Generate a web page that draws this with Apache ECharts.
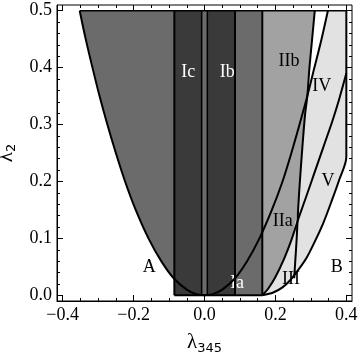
<!DOCTYPE html>
<html>
<head>
<meta charset="utf-8">
<script src="https://cdn.jsdelivr.net/npm/echarts@6/dist/echarts.min.js"></script>
<style>
  html, body { margin: 0; padding: 0; background: #fff; }
  #chart { width: 360px; height: 356px; }
</style>
</head>
<body>
<div id="chart"></div>
<script>
// tick positions
const xMajor = [-0.4, -0.2, 0, 0.2, 0.4];
const xMinor = [-0.4, -0.35, -0.3, -0.25, -0.2, -0.15, -0.1, -0.05, 0, 0.05, 0.1, 0.15, 0.2, 0.25, 0.3, 0.35, 0.4];
const yMajor = [0, 0.1, 0.2, 0.3, 0.4, 0.5];
const yMinor = [0, 0.02, 0.04, 0.06, 0.08, 0.1, 0.12, 0.14, 0.16, 0.18, 0.2, 0.22, 0.24, 0.26, 0.28, 0.3,
                0.32, 0.34, 0.36, 0.38, 0.4, 0.42, 0.44, 0.46, 0.48, 0.5];

// boundary of the big region (parabola-like curve)
const paraX = [-0.352, -0.335, -0.316, -0.296, -0.274, -0.25, -0.224, -0.194, -0.158, -0.122, -0.087, -0.05, -0.025, 0,
               0.025, 0.05, 0.086, 0.12, 0.155, 0.19, 0.22, 0.245, 0.268, 0.29, 0.31, 0.33, 0.348];
const paraY = [0.5, 0.45, 0.4, 0.35, 0.3, 0.25, 0.2, 0.15, 0.1, 0.06, 0.03, 0.01, 0.0025, 0,
               0.0025, 0.01, 0.03, 0.06, 0.1, 0.15, 0.2, 0.25, 0.3, 0.35, 0.4, 0.45, 0.5];

// vertical strip edges (Ic | Ib | medium | II)
const stripX = [-0.085, -0.008, 0.008, 0.086, 0.163];

// line between IIb and IV / through III
const l1X = [0.311, 0.302, 0.296, 0.29, 0.284, 0.276, 0.269, 0.264, 0.26, 0.256, 0.253];
const l1Y = [0.5, 0.44, 0.4, 0.35, 0.32, 0.26, 0.2, 0.15, 0.1, 0.06, 0.03];

// curve from the corner, IIa | III and IV | V
const c3X = [0.163, 0.18, 0.2, 0.225, 0.245, 0.265, 0.285, 0.31, 0.335, 0.36, 0.38, 0.4];
const c3Y = [0, 0.012, 0.032, 0.065, 0.097, 0.135, 0.17, 0.215, 0.26, 0.305, 0.345, 0.39];

// outer boundary towards B
const outX = [0.163, 0.194, 0.22, 0.241, 0.265, 0.288, 0.31, 0.335, 0.36, 0.38, 0.4];
const outY = [0, 0.005, 0.014, 0.026, 0.045, 0.066, 0.093, 0.127, 0.168, 0.203, 0.243];

// region names
const labelNames = ['A', 'B', 'Ia', 'Ib', 'Ic', 'IIa', 'IIb', 'III', 'IV', 'V'];
const labelX = [-0.156, 0.373, 0.092, 0.064, -0.046, 0.221, 0.238, 0.244, 0.331, 0.348];
const labelY = [0.049, 0.049, 0.021, 0.392, 0.392, 0.13, 0.412, 0.028, 0.368, 0.2];

const TOP = 0.5;
const XR = 0.4;
const FONT = '"Liberation Serif", "Times New Roman", serif';

const pts = (xs, ys) => xs.map((x, i) => [x, ys[i]]);
const para = pts(paraX, paraY);
const l1 = pts(l1X, l1Y);
const c3 = pts(c3X, c3Y);
const outer = pts(outX, outY);
const leftArm = para.filter(p => p[0] <= stripX[0]);
const rightArm = para.filter(p => p[0] > 0);

const polyLight = [].concat(outer, [[XR, TOP], [stripX[4], TOP]]);
const polyII = [[stripX[4], TOP]].concat(l1.filter(p => p[1] >= 0.13), c3.filter(p => p[1] < 0.13).reverse());
const polyMed = [].concat(leftArm, [[stripX[0], 0], [stripX[4], 0], [stripX[4], TOP]]);
const polyIc = [[stripX[0], 0], [stripX[1], 0], [stripX[1], TOP], [stripX[0], TOP]];
const polyIb = [[stripX[2], 0], [stripX[3], 0], [stripX[3], TOP], [stripX[2], TOP]];
const polyWhite = [].concat(l1.filter(p => p[1] >= 0.35), rightArm.filter(p => p[1] >= 0.35));

function polySeries(poly, color) {
    return {
        type: 'custom',
        silent: true,
        data: [[0, 0]],
        renderItem: function (params, api) {
            return {
                type: 'polygon',
                shape: {points: poly.map(p => api.coord(p))},
                style: {fill: color}
            };
        }
    };
}

function lineSeries(data, width, smooth) {
    return {
        type: 'line',
        silent: true,
        data: data,
        showSymbol: false,
        smooth: smooth ? 0.3 : false,
        lineStyle: {color: '#000', width: width}
    };
}

const fmt = v => (v < 0 ? '\u2212' : '') + Math.abs(v).toFixed(1);

function xAx(pos, ticks, len, labels) {
    return {
        type: 'value', position: pos, min: -0.416, max: 0.416,
        axisLine: {show: labels, onZero: false, lineStyle: {color: '#000', width: 1}},
        axisTick: {show: true, inside: true, length: len, customValues: ticks, lineStyle: {color: '#000', width: 1}},
        axisLabel: {show: labels, customValues: xMajor, formatter: fmt, color: '#000', fontSize: 18, fontFamily: FONT, margin: 5},
        splitLine: {show: false},
        name: labels && pos === 'bottom' ? '{l|λ}{s|345}' : '',
        nameLocation: 'middle', nameGap: 29,
        nameTextStyle: {
            rich: {
                l: {fontSize: 21, fontFamily: FONT, color: '#000'},
                s: {fontSize: 13, fontFamily: 'DejaVu Sans', color: '#000', padding: [12, 0, 0, 0]}
            }
        }
    };
}

function yAx(pos, ticks, len, labels) {
    return {
        type: 'value', position: pos, min: -0.01, max: 0.51,
        axisLine: {show: labels, onZero: false, lineStyle: {color: '#000', width: 1}},
        axisTick: {show: true, inside: true, length: len, customValues: ticks, lineStyle: {color: '#000', width: 1}},
        axisLabel: {show: labels, customValues: yMajor, formatter: v => v.toFixed(1), color: '#000', fontSize: 18, fontFamily: FONT, margin: 5},
        splitLine: {show: false},
        name: labels && pos === 'left' ? '{l|λ}{s|2}' : '',
        nameLocation: 'middle', nameGap: 28,
        nameTextStyle: {
            rich: {
                l: {fontSize: 21, fontFamily: FONT, color: '#000'},
                s: {fontSize: 13, fontFamily: 'DejaVu Sans', color: '#000', padding: [12, 0, 0, 0]}
            }
        }
    };
}

const chart = echarts.init(document.getElementById('chart'), null, {renderer: 'canvas'});
chart.setOption({
    animation: false,
    backgroundColor: '#fff',
    grid: {
        left: 57, right: 8, top: 5, bottom: 55,
        outerBoundsMode: 'none', containLabel: false,
        show: true, borderColor: '#000', borderWidth: 1, backgroundColor: 'transparent'
    },
    xAxis: [
        xAx('bottom', xMajor, 6, true),
        xAx('bottom', xMinor, 3, false),
        xAx('top', xMajor, 6, false),
        xAx('top', xMinor, 3, false)
    ],
    yAxis: [
        yAx('left', yMajor, 6, true),
        yAx('left', yMinor, 3, false),
        yAx('right', yMajor, 6, false),
        yAx('right', yMinor, 3, false)
    ],
    series: [
        polySeries(polyLight, '#e2e2e2'),
        polySeries(polyII, '#a2a2a2'),
        polySeries(polyMed, '#6b6b6b'),
        polySeries(polyIc, '#3a3a3a'),
        polySeries(polyIb, '#3a3a3a'),
        polySeries(polyWhite, '#ffffff'),
        lineSeries(para, 2, true),
        lineSeries(l1, 2, true),
        lineSeries(c3, 2, true),
        lineSeries(outer.concat([[XR, TOP]]), 2, true),
        lineSeries([[paraX[0], TOP], [XR, TOP]], 1.5, false),
        lineSeries([[stripX[0], 0], [stripX[4], 0]], 2, false),
        lineSeries([[stripX[0], 0], [stripX[0], TOP]], 2, false),
        lineSeries([[stripX[1], 0], [stripX[1], TOP]], 1.5, false),
        lineSeries([[stripX[2], 0], [stripX[2], TOP]], 1.5, false),
        lineSeries([[stripX[3], 0], [stripX[3], TOP]], 2, false),
        lineSeries([[stripX[4], 0], [stripX[4], TOP]], 2, false),
        {
            type: 'custom',
            silent: true,
            data: pts(labelX, labelY),
            renderItem: function (params, api) {
                const p = api.coord([api.value(0), api.value(1)]);
                const name = labelNames[params.dataIndex];
                const light = name === 'Ia' || name === 'Ib' || name === 'Ic';
                return {
                    type: 'text',
                    x: p[0], y: p[1],
                    style: {
                        text: name, fill: light ? '#fff' : '#000',
                        font: '18px ' + FONT, align: 'center', verticalAlign: 'middle'
                    }
                };
            }
        }
    ]
});
</script>
</body>
</html>
